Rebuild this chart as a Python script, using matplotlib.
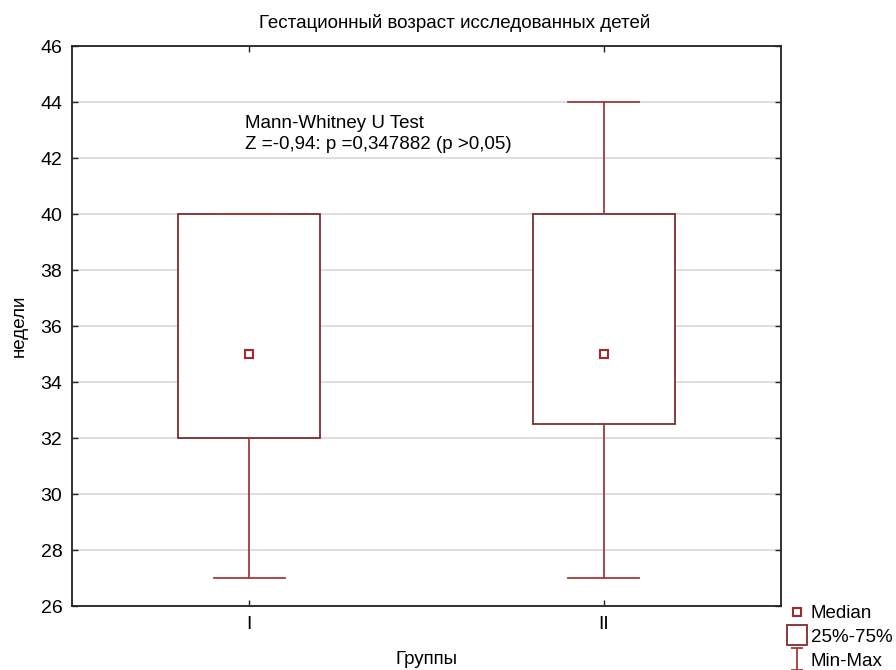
import matplotlib.pyplot as plt
from matplotlib.lines import Line2D
from matplotlib.path import Path

plt.rcParams['font.family'] = ['Liberation Sans', 'DejaVu Sans']

groups = ['I', 'II']
mins = [27, 27]
q1 = [32, 32.5]
medians = [35, 35]
q3 = [40, 40]
maxs = [40, 44]

box_color = '#7a2e2e'
whisk_color = '#a33a3a'
med_color = '#a32a2a'

fig = plt.figure(figsize=(8.96, 6.7), dpi=100)
ax = fig.add_axes([0.0804, 0.0955, 0.7913, 0.8358])

stats = []
for g, lo, a, m, b, hi in zip(groups, mins, q1, medians, q3, maxs):
    stats.append({'label': g, 'whislo': lo, 'q1': a, 'med': m, 'q3': b, 'whishi': hi, 'fliers': []})

pos = list(range(1, len(groups) + 1))
ax.bxp(stats, positions=pos, widths=0.4, patch_artist=True, showfliers=False,
       boxprops=dict(facecolor='white', edgecolor=box_color, linewidth=1.3),
       whiskerprops=dict(color=whisk_color, linewidth=1.3),
       capprops=dict(color=whisk_color, linewidth=1.3),
       capwidths=0.2,
       medianprops=dict(linewidth=0), zorder=2)
ax.plot(pos, medians, 's', ms=6, mfc='white', mec=med_color, mew=1.5, ls='none', zorder=3)

ax.set_xlim(0.5, 2.5)
ax.set_ylim(26, 46)
ax.set_yticks(range(26, 47, 2))
ax.set_xticks(pos)
ax.set_xticklabels(groups)
ax.yaxis.grid(True, color='#dcdcdc', linewidth=1.3, zorder=0)
ax.set_axisbelow(True)
ax.tick_params(direction='in', length=4, width=1, top=True, right=True,
               labelsize=14, pad=7, colors='#222222', labelcolor='black')
for s in ax.spines.values():
    s.set_linewidth(1.3)
    s.set_color('#222222')

ax.set_ylabel('недели', fontsize=13.5, labelpad=9)
ax.set_xlabel('Группы', fontsize=13.5, labelpad=13)
fig.text(455 / 896, 1 - 23 / 670, 'Гестационный возраст исследованных детей',
         ha='center', va='center', fontsize=13.5)

ax.text(0.989, 43.55, 'Mann-Whitney U Test\nZ =-0,94: p =0,347882 (p >0,05)',
        ha='left', va='top', fontsize=13.5, linespacing=1.35)

# legend in the lower right corner, outside the plot frame
minmax = Path([(-0.5, 1), (0.5, 1), (0, 1), (0, -1), (-0.5, -1), (0.5, -1)],
              [Path.MOVETO, Path.LINETO, Path.MOVETO, Path.LINETO, Path.MOVETO, Path.LINETO])
handles = [
    Line2D([], [], marker='s', ms=6, mfc='white', mec=med_color, mew=1.5, ls='none'),
    Line2D([], [], marker='s', ms=14, mfc='white', mec=box_color, mew=1.3, ls='none'),
    Line2D([], [], marker=minmax, ms=16, mec=whisk_color, mfc='none', mew=1.3, ls='none'),
]
fig.legend(handles, ['Median', '25%-75%', 'Min-Max'], loc='upper left',
           bbox_to_anchor=(789 / 896, 1 - 605 / 670), frameon=False, fontsize=13.5,
           handlelength=0.9, handletextpad=0.25, labelspacing=0.35, borderpad=0, borderaxespad=0)

fig.savefig('out.png', dpi=100)
